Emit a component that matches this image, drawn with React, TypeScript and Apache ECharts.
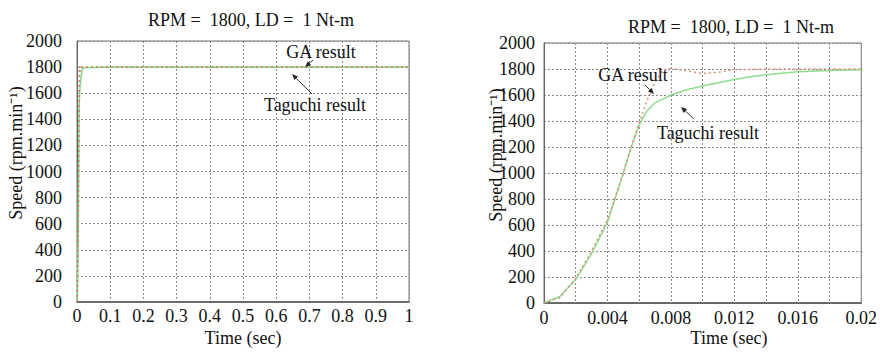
import React, { useEffect, useRef } from "react";
import * as echarts from "echarts";

// Time (s) and speed (rpm) samples
const gaTime = [0, 0.001, 0.002, 0.003, 0.004, 0.005, 0.0055, 0.006, 0.0065, 0.007, 0.0075, 0.008, 0.009, 0.01, 0.011, 0.012, 0.014, 0.02, 0.1, 0.5, 1];
const gaSpeed = [0, 40, 190, 400, 640, 1000, 1200, 1390, 1560, 1700, 1790, 1805, 1785, 1765, 1775, 1795, 1800, 1800, 1800, 1800, 1800];
const tgTime = [0, 0.001, 0.002, 0.003, 0.004, 0.005, 0.0055, 0.006, 0.0065, 0.007, 0.008, 0.009, 0.01, 0.011, 0.012, 0.013, 0.014, 0.015, 0.016, 0.018, 0.02, 0.1, 0.5, 1];
const tgSpeed = [0, 50, 180, 380, 620, 1000, 1200, 1370, 1480, 1540, 1600, 1640, 1670, 1695, 1720, 1740, 1755, 1768, 1778, 1788, 1795, 1800, 1800, 1800];

const titleText = "RPM =  1800, LD =  1 Nt-m";
const xName = "Time (sec)";
const yName = "Speed (rpm.min\u207B\u00B9)";
const gaLabel = "GA result";
const tgLabel = "Taguchi result";

const FONT = "'Liberation Serif', 'Times New Roman', serif";

export default function App() {
  const ref = useRef<HTMLDivElement>(null);
  useEffect(() => {
    if (!ref.current) return;
    const chart = echarts.init(ref.current, null, { renderer: "svg" });
    const ga = gaTime.map((t, i) => [t, gaSpeed[i]]);
    const tg = tgTime.map((t, i) => [t, tgSpeed[i]]);
    const txt = (x: number, y: number, s: string, size = 18, rot = 0) => ({
      type: "text",
      x,
      y,
      rotation: rot,
      style: { text: s, font: `${size}px ${FONT}`, fill: "#111", align: "center", verticalAlign: "middle" },
      z: 100,
    });
    const arrow = (x1: number, y1: number, x2: number, y2: number) => {
      const a = Math.atan2(y2 - y1, x2 - x1);
      const L = 6, W = 2.5;
      const bx = x2 - L * Math.cos(a), by = y2 - L * Math.sin(a);
      return [
        { type: "line", shape: { x1, y1, x2: bx, y2: by }, style: { stroke: "#333", lineWidth: 1 }, z: 100 },
        {
          type: "polygon",
          shape: { points: [[x2, y2], [bx - W * Math.sin(a), by + W * Math.cos(a)], [bx + W * Math.sin(a), by - W * Math.cos(a)]] },
          style: { fill: "#222" },
          z: 100,
        },
      ];
    };
    const gridLine = { show: true, lineStyle: { color: "#8a8a8a", type: [2, 2] as any, width: 1 } };
    const labelStyle = { fontFamily: FONT, fontSize: 18, color: "#111" };
    const yAxisBase = (gi: number, margin: number) => ({
      type: "value",
      gridIndex: gi,
      min: 0,
      max: 2000,
      interval: 200,
      axisLine: { show: true, lineStyle: { color: "#666", width: 1 } },
      axisTick: { show: false },
      splitLine: gridLine,
      axisLabel: { ...labelStyle, margin, formatter: (v: number) => String(v) },
    });
    chart.setOption({
      animation: false,
      grid: [
        { left: 77, top: 41, width: 332, height: 261, show: true, borderColor: "#777", borderWidth: 1, backgroundColor: "#fff" },
        { left: 544, top: 43, width: 331, height: 260, show: true, borderColor: "#777", borderWidth: 1, backgroundColor: "#fff" },
      ],
      xAxis: [
        {
          type: "value",
          gridIndex: 0,
          min: 0,
          max: 1,
          interval: 0.1,
          axisLine: { show: true, lineStyle: { color: "#555", width: 1.5 } },
          axisTick: { show: false },
          splitLine: gridLine,
          axisLabel: { ...labelStyle, margin: 5, formatter: (v: number) => String(parseFloat(v.toFixed(3))) },
        },
        {
          type: "value",
          gridIndex: 1,
          min: 0,
          max: 0.02,
          interval: 0.002,
          axisLine: { show: true, lineStyle: { color: "#555", width: 1.5 } },
          axisTick: { show: false },
          splitLine: gridLine,
          axisLabel: {
            ...labelStyle,
            margin: 6,
            formatter: (v: number) => {
              const k = Math.round(v / 0.002);
              return k % 2 === 0 ? String(parseFloat(v.toFixed(4))) : "";
            },
          },
        },
      ],
      yAxis: [yAxisBase(0, 15), yAxisBase(1, 9)],
      series: [
        { type: "line", xAxisIndex: 0, yAxisIndex: 0, data: tg, showSymbol: false, symbol: "none", lineStyle: { color: "#86d886", width: 1.5 }, z: 3 },
        { type: "line", xAxisIndex: 0, yAxisIndex: 0, data: ga, showSymbol: false, symbol: "none", lineStyle: { color: "#cf7a60", width: 1.5, type: [2, 3] }, z: 4 },
        { type: "line", xAxisIndex: 1, yAxisIndex: 1, data: tg, showSymbol: false, symbol: "none", lineStyle: { color: "#8fdc8f", width: 1.5 }, z: 3 },
        { type: "line", xAxisIndex: 1, yAxisIndex: 1, data: ga, showSymbol: false, symbol: "none", lineStyle: { color: "#de8c74", width: 1.4, type: [2, 3] }, z: 4 },
      ],
      graphic: [
        txt(251, 20, titleText),
        txt(731, 27, titleText),
        txt(243, 338, xName),
        txt(729, 338, xName),
        txt(16, 153, yName, 18, Math.PI / 2),
        txt(496, 155, yName, 18, Math.PI / 2),
        txt(321, 52, gaLabel),
        txt(315, 105, tgLabel),
        txt(633, 75, gaLabel),
        txt(708, 133, tgLabel),
        ...arrow(313, 60, 305, 67),
        ...arrow(312, 94, 292, 74),
        ...arrow(645, 85, 654, 94),
        ...arrow(694, 119, 681, 107),
      ],
    });
    return () => chart.dispose();
  }, []);
  return <div ref={ref} style={{ position: "absolute", left: 0, top: 0, width: 880, height: 352 }} />;
}
